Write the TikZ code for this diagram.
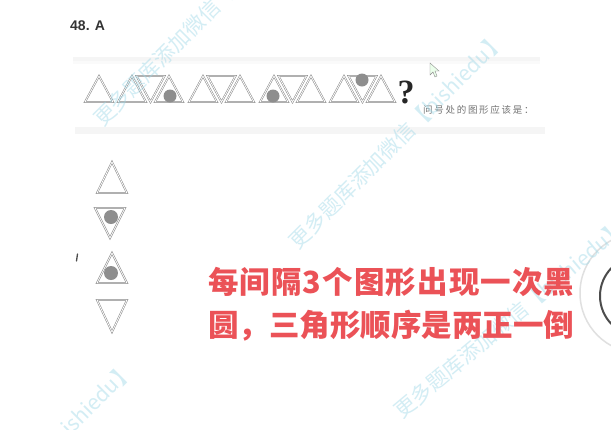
\documentclass[tikz,border=0pt]{standalone}
\usepackage{fontspec}
\setmainfont{Liberation Serif}
\newfontfamily\cjk{Noto Sans CJK SC}
\newfontfamily\cjkwide[LetterSpace=3.6]{Noto Sans CJK SC}
\newfontfamily\cjkspaced[LetterSpace=18]{Noto Sans CJK SC}
\newfontfamily\hel{Liberation Sans}
\definecolor{tric}{HTML}{858585}
\definecolor{dotc}{HTML}{8E8E8E}
\definecolor{redtxt}{HTML}{EB5257}
\definecolor{wmc}{HTML}{9ED8E8}
\tikzset{
  tri/.style={draw=tric, line width=0.5pt, double=white, double distance=0.8pt, line join=miter},
  blob/.style={fill=dotc},
  wm/.style={font=\cjk\fontsize{21}{21}\selectfont, text=wmc, opacity=0.45, inner sep=0pt},
  red/.style={text=redtxt, inner sep=0pt, anchor=base west},
}
\newcommand\tup[4]{\draw[tri] ({#1-#3},{#2+#4}) -- ({#1},{#2-#4}) -- ({#1+#3},{#2+#4}) -- cycle;}
\newcommand\tdn[4]{\draw[tri] ({#1-#3},{#2-#4}) -- ({#1},{#2+#4}) -- ({#1+#3},{#2-#4}) -- cycle;}
\begin{document}
\begin{tikzpicture}[x=1pt,y=-1pt]
\useasboundingbox[fill=white] (0,0) rectangle (611,429);
% bands of the question box
\fill[black!4] (73,57) rectangle (540,61);
\fill[black!2] (73,61) rectangle (540,64);
\fill[red!3!black!4] (75,127) rectangle (545,134);
% title
\node[font=\hel\bfseries\fontsize{14}{14}\selectfont, text=black!80, anchor=base west, inner sep=0pt] (title) at (70,30) {48. A};
% top row
\tup{99}{89}{14}{13}
\tup{132}{89}{14}{13}
\tdn{150.5}{89}{14}{13}
\tup{169}{89}{14}{13}
\fill[blob] (170,96) circle (6.5);
\tup{203}{89}{14}{13}
\tdn{221.5}{89}{14}{13}
\tup{240}{89}{14}{13}
\tup{274}{89}{14}{13}
\fill[blob] (273,96) circle (6.5);
\tdn{292.5}{89}{14}{13}
\tup{311}{89}{14}{13}
\tup{344}{89}{14}{13}
\tdn{362.5}{89}{14}{13}
\fill[blob] (362,80) circle (6.5);
\tup{381}{89}{14}{13}
\node[font=\bfseries\fontsize{34}{34}\selectfont, text=black!85, anchor=base, inner sep=0pt] (qm) at (406,103) {?};
\node[font=\cjkspaced\fontsize{9.5}{9.5}\selectfont, text=black!55, anchor=west, inner sep=0pt] (ask) at (423,110) {问号处的图形应该是：};
% cursor
\draw[black!45, fill=green!8, line width=0.4pt] (430,63) -- (430,75) -- (433,72) -- (435,77) -- (437,76) -- (435,71) -- (439,71) -- cycle;
% options
\tup{112}{177.5}{15}{15.5}
\tdn{110}{223}{15}{15}
\fill[blob] (111,217) circle (7);
\tup{112}{268}{15}{15}
\fill[blob] (111,273) circle (7);
\tdn{112}{316}{15}{16}
% left-edge mark
\draw[black!70, line width=1.3pt, line cap=round] (77.5,254) -- (76.5,261);
% right-edge round button
\draw[black!12, line width=1.5pt] (640,293) circle (60);
\draw[black!70, line width=2pt, fill=white] (640,296) circle (40);
% watermarks
\node[wm, rotate=45, anchor=base west] (wm1) at (103,128) {更多题库添加微信【bishiedu】};
\node[wm, rotate=45, anchor=base east] (wm2) at (507,42) {更多题库添加微信【bishiedu】};
\node[wm, rotate=40, anchor=base west] (wm3) at (402,420) {更多题库添加微信【bishiedu】};
\node[wm, rotate=45, anchor=base east] (wm0) at (136,371) {更多题库添加微信【bishiedu】};
% red explanation
\node[red, font=\cjkwide\bfseries\fontsize{30.5}{30.5}\selectfont] (l1) at (208,293) {每间隔3个图形出现一次黑};
\node[red, font=\cjk\bfseries\fontsize{30.5}{30.5}\selectfont] (l2) at (208,336) {圆，三角形顺序是两正一倒};
\end{tikzpicture}
\end{document}
